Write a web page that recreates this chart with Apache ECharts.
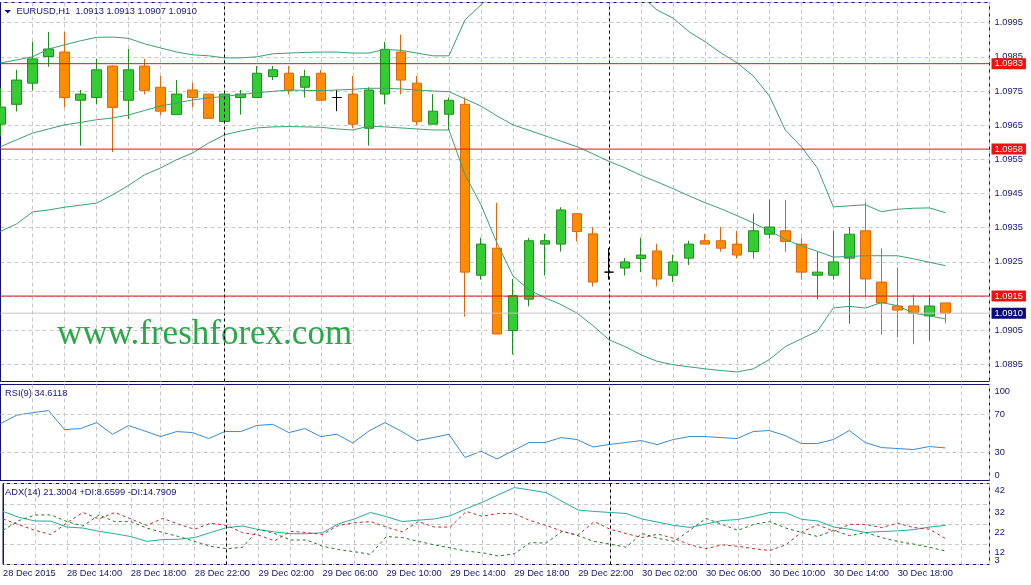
<!DOCTYPE html>
<html><head><meta charset="utf-8">
<script src="https://cdn.jsdelivr.net/npm/echarts@6/dist/echarts.min.js"></script>
<style>html,body{margin:0;padding:0;background:#fff}#c{width:1031px;height:585px}</style>
</head><body><div id="c"></div>
<script>
// ---------------- data ----------------
const symbol = 'EURUSD,H1';
const xTickLabels = ['28 Dec 2015','28 Dec 14:00','28 Dec 18:00','28 Dec 22:00','29 Dec 02:00','29 Dec 06:00','29 Dec 10:00','29 Dec 14:00','29 Dec 18:00','29 Dec 22:00','30 Dec 02:00','30 Dec 06:00','30 Dec 10:00','30 Dec 14:00','30 Dec 18:00'];
const daySeparatorIdx = [14, 38];
const open  = [1.09653,1.09711,1.09773,1.09851,1.09864,1.09723,1.09731,1.09823,1.09723,1.09823,1.09761,1.09681,1.09753,1.09741,1.09661,1.09731,1.09731,1.09792,1.09802,1.09761,1.09802,1.09731,1.09741,1.09641,1.09741,1.09864,1.09773,1.09653,1.09682,1.09711,1.09211,1.09290,1.09049,1.09141,1.09302,1.09302,1.09391,1.09332,1.09220,1.09232,1.09260,1.09282,1.09211,1.09261,1.09312,1.09312,1.09302,1.09280,1.09331,1.09341,1.09302,1.09211,1.09211,1.09261,1.09341,1.09191,1.09121,1.09121,1.09092,1.0913];
const high  = [1.09759,1.09812,1.09894,1.09923,1.09923,1.09753,1.09844,1.09825,1.09873,1.09844,1.09794,1.09782,1.09774,1.09741,1.09741,1.09753,1.09823,1.09823,1.09823,1.09812,1.09812,1.09753,1.09794,1.09761,1.09894,1.09915,1.09794,1.09741,1.09731,1.09731,1.09321,1.09423,1.09200,1.09320,1.09332,1.09410,1.09391,1.09352,1.09290,1.09261,1.09321,1.09303,1.09271,1.09312,1.09332,1.09352,1.09341,1.09391,1.09432,1.09432,1.09321,1.09280,1.09341,1.09352,1.09424,1.09290,1.09234,1.09153,1.09153,1.0913];
const low   = [1.09619,1.09690,1.09751,1.09821,1.09702,1.09590,1.09711,1.09571,1.09668,1.09740,1.09680,1.09681,1.09702,1.09670,1.09661,1.09681,1.09731,1.09782,1.09740,1.09731,1.09723,1.09691,1.09641,1.09590,1.09711,1.09740,1.09651,1.09653,1.09636,1.09090,1.09198,1.09039,1.08979,1.09120,1.09210,1.09280,1.09310,1.09178,1.09198,1.09210,1.09220,1.09178,1.09191,1.09241,1.09302,1.09280,1.09260,1.09260,1.09318,1.09280,1.09198,1.09141,1.09198,1.09069,1.09149,1.09037,1.09029,1.09009,1.09019,1.0907];
const close = [1.09703,1.09782,1.09844,1.09873,1.09731,1.09741,1.09812,1.09702,1.09812,1.09752,1.09691,1.09741,1.09731,1.09670,1.09741,1.09741,1.09802,1.09812,1.09751,1.09792,1.09723,1.09731,1.09653,1.09753,1.09872,1.09782,1.09661,1.09691,1.09723,1.09220,1.09302,1.09039,1.09151,1.09312,1.09312,1.09402,1.09339,1.09191,1.09220,1.09250,1.09270,1.09200,1.09250,1.09302,1.09302,1.09290,1.09270,1.09341,1.09352,1.09310,1.09220,1.09220,1.09250,1.09331,1.09200,1.09130,1.09109,1.09100,1.09121,1.0910];
const bbUpper  = [1.09832,1.09841,1.09850,1.09873,1.09885,1.09897,1.09907,1.09908,1.09904,1.09888,1.09876,1.09864,1.09856,1.09853,1.09847,1.09847,1.09850,1.09859,1.09861,1.09863,1.09864,1.09864,1.09861,1.09861,1.09872,1.09869,1.09861,1.09853,1.09853,1.09958,1.10002,1.10049,1.10092,1.10101,1.10092,1.10081,1.10075,1.10069,1.10066,1.10049,1.10028,1.09987,1.09963,1.09923,1.09894,1.09861,1.09832,1.09794,1.09736,1.09636,1.09587,1.09525,1.09411,1.09414,1.09417,1.09397,1.09404,1.09407,1.09408,1.09394];
const bbMiddle = [1.09587,1.09607,1.09627,1.09639,1.09651,1.09658,1.09666,1.09671,1.09680,1.09693,1.09706,1.09715,1.09724,1.09730,1.09734,1.09740,1.09745,1.09749,1.09753,1.09752,1.09751,1.09753,1.09755,1.09758,1.09758,1.09756,1.09753,1.09750,1.09748,1.09727,1.09706,1.09677,1.09651,1.09635,1.09619,1.09603,1.09587,1.09566,1.09544,1.09525,1.09503,1.09484,1.09464,1.09443,1.09423,1.09405,1.09385,1.09364,1.09341,1.09316,1.09297,1.09281,1.09264,1.09266,1.09268,1.09268,1.09268,1.09259,1.09249,1.09239];
const bbLower  = [1.09339,1.09361,1.09396,1.09402,1.09410,1.09416,1.09422,1.09446,1.09474,1.09505,1.09525,1.09549,1.09569,1.09598,1.09622,1.09633,1.09642,1.09645,1.09646,1.09645,1.09644,1.09639,1.09636,1.09647,1.09645,1.09642,1.09639,1.09636,1.09636,1.09505,1.09417,1.09305,1.09209,1.09168,1.09145,1.09125,1.09100,1.09063,1.09022,1.09002,1.08978,1.08959,1.08949,1.08943,1.08937,1.08932,1.08928,1.08937,1.08964,1.09002,1.09025,1.09047,1.09115,1.09120,1.09115,1.09131,1.09122,1.09100,1.09092,1.09083];
const rsi = [60.5,69.3,72.1,74.3,54.1,55.2,61.5,49.1,58.4,52.6,46.7,52.0,50.9,44.6,52.0,52.0,58.4,59.7,50.9,55.2,46.7,49.1,39.9,52.6,61.5,52.6,42.4,45.6,49.1,24.4,31.1,22.9,31.6,40.3,40.3,45.6,43.5,35.6,38.2,40.3,42.4,38.2,43.5,46.7,46.7,45.6,44.6,52.0,53.1,47.7,39.3,39.3,43.5,53.1,40.3,35.0,34.0,32.9,36.1,34.6];
const adx = [28.2,25.3,23.5,23.4,20.5,20.0,18.4,17.2,15.8,13.4,14.3,14.5,15.3,17.8,20.2,21.0,19.2,18.1,17.2,17.2,17.7,22.1,24.5,27.7,25.6,23.2,23.9,24.5,26.1,29.6,32.7,36.4,40.0,38.8,37.5,33.2,28.9,28.2,27.7,27.2,24.5,22.9,21.3,20.3,22.0,23.7,24.2,25.8,27.7,27.5,24.3,23.5,20.5,19.4,17.8,18.3,18.6,19.2,20.5,21.3];
const plusDI = [18.9,23.7,26.4,26.5,23.2,21.0,26.4,23.2,23.2,20.0,17.8,15.8,13.4,11.0,9.8,10.5,19.4,17.3,14.1,14.1,11.0,9.4,8.3,7.0,15.8,15.3,13.4,11.7,10.2,8.6,7.8,6.2,7.3,12.8,12.6,18.4,16.2,13.4,12.1,10.5,17.3,14.9,13.4,18.9,24.8,21.8,18.9,21.8,23.2,20.0,17.8,15.8,18.9,16.2,17.8,15.3,13.4,12.1,10.5,8.66];
const minusDI = [24.5,21.6,18.9,16.8,22.6,27.7,24.5,27.7,24.5,21.3,24.8,21.8,19.4,22.4,21.3,17.7,16.5,13.7,18.4,17.8,16.8,21.3,22.6,23.2,20.5,18.1,23.2,20.5,20.5,28.2,25.8,27.2,27.1,23.7,21.3,18.4,16.5,23.2,19.4,17.3,15.3,17.0,14.9,11.7,9.8,11.7,11.0,9.8,8.9,11.7,18.1,21.6,18.4,21.8,21.8,20.2,22.4,20.3,19.4,14.79];
const priceTicks = [1.0895,1.0905,1.0915,1.0925,1.0935,1.0945,1.0955,1.0965,1.0975,1.0985,1.0995];
const rsiTicks = [0,30,70,100];
const rsiLevels = [30,70];
const adxTicks = [12,22,32,42];
const adxMinLabel = 3;
const levelLines = [1.0983, 1.0958, 1.0915];
const bidPrice = 1.0910;
const rsiHeader = 'RSI(9) 34.6118';
const adxHeader = 'ADX(14) 21.3004 +DI:8.6599 -DI:14.7909';
const watermark = 'www.freshforex.com';

// ---------------- chart ----------------
const N = open.length;
const FONT = 'Liberation Sans';
const FS = 9.3;
const NAVY = '#141470';
const GRIDC = '#c8c8c8';
const RED = 'rgb(214,24,24)';
const XMAX = 61.75;
const fmt4 = v => v.toFixed(4);
const pairs = a => a.map((v, i) => [i, v]);
const near = (arr, v) => arr.some(t => Math.abs(t - v) < 1e-7);

const candleData = open.map((o, i) => {
  const item = { value: [i, o, close[i], low[i], high[i]] };
  if (o === close[i]) item.itemStyle = { color: '#000', color0: '#000', borderColor: '#000', borderColor0: '#000' };
  return item;
});

const sepLines = () => daySeparatorIdx.map(i => ({ xAxis: i, lineStyle: { color: '#000', type: [3, 3], width: 1 }, label: { show: false } }));

function levelSeries(value, lineColor, boxColor) {
  return {
    type: 'line', name: 'level ' + fmt4(value), xAxisIndex: 0, yAxisIndex: 0, z: 6, silent: true,
    data: [[0, value], [XMAX, value]], symbol: 'none', color: lineColor,
    lineStyle: { color: lineColor, width: 1, type: 'solid' },
    endLabel: { show: true, distance: 2, color: '#fff', backgroundColor: boxColor, padding: [1, 3, 1, 3], fontFamily: FONT, fontSize: FS, formatter: fmt4(value) }
  };
}

function xAxisFor(gi, showLabels) {
  return {
    type: 'value', gridIndex: gi, min: 0, max: XMAX, interval: 2,
    axisLine: { show: false }, axisTick: { show: false },
    splitLine: { show: true, lineStyle: { color: GRIDC, type: [4, 3], width: 1 } },
    axisLabel: {
      show: showLabels, align: 'left', margin: 4, fontFamily: FONT, fontSize: FS, color: NAVY,
      formatter: v => (Math.abs(v % 4) < 1e-9 && xTickLabels[v / 4]) ? xTickLabels[v / 4] : ''
    }
  };
}

const richShift = {
  d5: { padding: [10, 0, 0, 0] },
  d7: { padding: [13, 0, 0, 0] },
  d9: { padding: [17, 0, 0, 0] },
  u6: { padding: [0, 0, 11, 0] }
};

const option = {
  animation: false,
  backgroundColor: '#fff',
  textStyle: { fontFamily: FONT },
  grid: [
    { left: 0.5, top: 2.5, width: 989, height: 379, show: true, borderColor: NAVY, borderWidth: 1, backgroundColor: 'transparent' },
    { left: 0.5, top: 384.5, width: 989, height: 96, show: true, borderColor: NAVY, borderWidth: 1, backgroundColor: 'transparent' },
    { left: 0.5, top: 483.5, width: 989, height: 81, show: true, borderColor: NAVY, borderWidth: 1, backgroundColor: 'transparent' }
  ],
  xAxis: [xAxisFor(0, false), xAxisFor(1, false), xAxisFor(2, true)],
  yAxis: [
    {
      type: 'value', gridIndex: 0, position: 'right', min: 1.0890, max: 1.10009, interval: 0.0005,
      axisLine: { show: true, lineStyle: { color: NAVY } }, axisTick: { show: false },
      splitLine: { show: true, lineStyle: { color: ['rgba(0,0,0,0)', GRIDC], type: [4, 3] } },
      axisLabel: { margin: 5, fontFamily: FONT, fontSize: FS, color: NAVY, formatter: v => near(priceTicks, v) ? fmt4(v) : '' }
    },
    {
      type: 'value', gridIndex: 1, position: 'right', min: 0, max: 102, interval: 10,
      axisLine: { show: true, lineStyle: { color: NAVY } }, axisTick: { show: false }, splitLine: { show: false },
      axisLabel: {
        margin: 5, fontFamily: FONT, fontSize: FS, color: NAVY, rich: richShift,
        formatter: v => {
          if (!near(rsiTicks, v)) return '';
          if (v > 99) return '{d5|' + v + '}';
          if (v < 1) return '{u6|' + v + '}';
          return String(v);
        }
      }
    },
    {
      type: 'value', gridIndex: 2, position: 'right', min: 2, max: 42, interval: 10,
      axisLine: { show: true, lineStyle: { color: NAVY } }, axisTick: { show: false },
      splitLine: { show: true, lineStyle: { color: GRIDC, type: [4, 3] } },
      axisLabel: {
        margin: 5, fontFamily: FONT, fontSize: FS, color: NAVY, rich: richShift, showMinLabel: false,
        formatter: v => {
          if (!near(adxTicks, v)) return '';
          return (v === Math.max(...adxTicks) ? '{d7|' : '{d9|') + v + '}';
        }
      }
    }
  ],
  graphic: [
    { type: 'polygon', z: 10, shape: { points: [[4.5, 10], [11, 10], [7.75, 13.5]] }, style: { fill: NAVY } },
    { type: 'text', z: 10, x: 16.5, y: 11.5, style: { text: symbol + '  ' + [open[N - 1], high[N - 1], low[N - 1], close[N - 1]].map(fmt4).join(' '), fill: NAVY, font: FS + 'px "' + FONT + '"', verticalAlign: 'middle' } },
    { type: 'text', z: 10, x: 5, y: 393.5, style: { text: rsiHeader, fill: NAVY, font: FS + 'px "' + FONT + '"', verticalAlign: 'middle' } },
    { type: 'text', z: 10, x: 5, y: 492.5, style: { text: adxHeader, fill: NAVY, font: FS + 'px "' + FONT + '"', verticalAlign: 'middle' } },
    { type: 'text', z: 1, x: 57, y: 334.5, style: { text: watermark, fill: '#2aa748', font: '35px "Liberation Serif"', verticalAlign: 'middle' } }
  ],
  series: [
    {
      type: 'candlestick', name: symbol, xAxisIndex: 0, yAxisIndex: 0, barWidth: 10, z: 3,
      data: candleData,
      itemStyle: { color: '#33cc33', color0: '#ff8c00', borderColor: '#1f8f1f', borderColor0: '#e2650c', borderWidth: 1 },
      markLine: { silent: true, symbol: ['none', 'none'], animation: false, precision: 5, data: sepLines() }
    },
    { type: 'line', name: 'BB upper', xAxisIndex: 0, yAxisIndex: 0, z: 4, data: pairs(bbUpper), symbol: 'none', lineStyle: { color: '#3c9f72', width: 1 } },
    { type: 'line', name: 'BB middle', xAxisIndex: 0, yAxisIndex: 0, z: 4, data: pairs(bbMiddle), symbol: 'none', lineStyle: { color: '#3c9f72', width: 1 } },
    { type: 'line', name: 'BB lower', xAxisIndex: 0, yAxisIndex: 0, z: 4, data: pairs(bbLower), symbol: 'none', lineStyle: { color: '#3c9f72', width: 1 } },
    ...levelLines.map(v => levelSeries(v, RED, '#ee1111')),
    levelSeries(bidPrice, '#c4c4c4', '#0a0a78'),
    {
      type: 'line', name: 'RSI(9)', xAxisIndex: 1, yAxisIndex: 1, data: pairs(rsi), symbol: 'none', lineStyle: { color: '#3a8acb', width: 1 },
      markLine: {
        silent: true, symbol: ['none', 'none'], animation: false, precision: 5,
        data: [...rsiLevels.map(v => ({ yAxis: v, lineStyle: { color: GRIDC, type: [4, 3], width: 1 }, label: { show: false } })), ...sepLines()]
      }
    },
    {
      type: 'line', name: 'ADX', xAxisIndex: 2, yAxisIndex: 2, data: pairs(adx), symbol: 'none', lineStyle: { color: '#2aa9a2', width: 1 },
      markLine: {
        silent: true, symbol: ['none', 'none'], animation: false, precision: 5,
        data: [
          ...sepLines(),
          { yAxis: adxMinLabel, lineStyle: { color: 'rgba(0,0,0,0)', width: 1 }, label: { show: true, position: 'end', distance: 5, offset: [0, -2], color: NAVY, fontFamily: FONT, fontSize: FS, formatter: String(adxMinLabel) } }
        ]
      }
    },
    { type: 'line', name: '+DI', xAxisIndex: 2, yAxisIndex: 2, data: pairs(plusDI), symbol: 'none', lineStyle: { color: '#1e7d1e', width: 1, type: [3, 3] } },
    { type: 'line', name: '-DI', xAxisIndex: 2, yAxisIndex: 2, data: pairs(minusDI), symbol: 'none', lineStyle: { color: '#c42a2a', width: 1, type: [3, 3] } }
  ]
};

const chart = echarts.init(document.getElementById('c'), null, { renderer: 'canvas' });
chart.setOption(option);
</script>
</body></html>
